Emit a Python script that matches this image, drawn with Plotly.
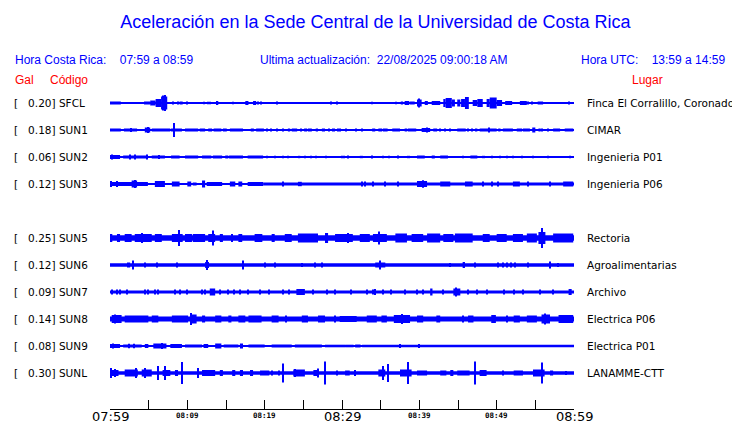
import plotly.graph_objects as go

# time axis: minutes after 07:59 (hora Costa Rica)
tick_minutes = list(range(0, 61, 5))
tick_labels = ["07:59", "", "08:09", "", "08:19", "", "08:29", "", "08:39", "", "08:49", "", "08:59"]
big_labels = ["07:59", "08:29", "08:59"]

codes = ["SFCL", "SUN1", "SUN2", "SUN3", "SUN5", "SUN6", "SUN7", "SUN8", "SUN9", "SUNL"]
peak_gal = [0.20, 0.18, 0.06, 0.12, 0.25, 0.12, 0.09, 0.14, 0.08, 0.30]
places = [
    "Finca El Corralillo, Coronado", "CIMAR", "Ingenieria P01", "Ingenieria P06",
    "Rectoria", "Agroalimentarias", "Archivo", "Electrica P06", "Electrica P01", "LANAMME-CTT",
]
# row slot of each station (SUN4 has no trace, its row stays empty)
slots = [0, 1, 2, 3, 5, 6, 7, 8, 9, 10]

# trace envelopes: (minute start, minute end, half amplitude)
sfcl = [
    (0, 60, 0.5), (0, 1.4, 1.5),
    (4.4, 5.2, 1.5), (5.2, 5.9, 2.5), (5.9, 6.6, 4), (6.6, 7.4, 6.5), (6.8, 6.8, 7.5), (7.1, 7.1, 8),
    (8.1, 8.1, 1.5), (8.75, 8.75, 1.5), (9.0, 9.4, 1.5), (10.0, 10.0, 1.5), (12.2, 12.2, 1.2),
    (12.7, 12.7, 1.2), (12.9, 12.9, 1.2), (13.8, 14.0, 2), (15.9, 15.9, 1.2), (17.5, 17.9, 2),
    (18.5, 18.9, 2), (19.1, 19.1, 1.5), (19.5, 19.5, 1.5), (21.6, 21.6, 1.5), (28.6, 28.6, 1.5),
    (29.3, 29.3, 1.5), (33.9, 33.9, 1.2), (37.0, 37.0, 1.2), (37.6, 37.9, 1.5), (38.1, 38.7, 2),
    (38.8, 39.4, 1.5), (39.7, 40.3, 3.5), (40.0, 40.0, 4.5), (40.7, 41.1, 2), (41.6, 42.7, 2),
    (43.1, 43.4, 4), (43.4, 44.2, 5), (44.2, 44.6, 3.5), (44.9, 45.3, 3.5), (45.4, 45.9, 4),
    (45.9, 46.4, 6), (46.9, 47.5, 3), (47.5, 48.2, 4), (48.7, 49.1, 4), (49.1, 50.0, 5.5),
    (50.0, 50.7, 3), (51.1, 52.0, 2), (53.0, 53.9, 2), (54.0, 54.0, 1.5), (54.6, 54.6, 1.5),
    (55.3, 56.0, 1.5), (59.3, 59.3, 1.5),
]
sun1 = [
    (0, 60, 0.5), (0, 1.4, 1.5), (1.8, 3.5, 1.5), (2.7, 2.7, 2), (4.5, 5.2, 2.5), (4.9, 4.9, 3),
    (5.4, 7.8, 1.5), (7.9, 9.3, 1.5), (8.3, 8.3, 7), (9.7, 11.4, 1.5), (11.6, 12.3, 1.5),
    (12.7, 13.2, 1.5), (13.4, 14.4, 1.5), (14.6, 15.1, 1.5), (15.5, 17.2, 1.5), (18.2, 18.6, 1.5),
    (18.9, 19.9, 1.5), (20.2, 20.3, 1.5), (20.8, 20.9, 1.5), (21.5, 21.7, 1.5), (22.4, 22.4, 1.5),
    (23.0, 23.3, 1.5), (23.5, 24.2, 1.5), (24.6, 24.8, 1.5), (25.1, 25.5, 1.5), (25.6, 26.1, 1.5),
    (26.6, 26.9, 1.5), (27.4, 27.8, 1.5), (28.2, 28.4, 1.5), (28.7, 29.1, 1.5), (29.5, 29.5, 1.5),
    (29.7, 29.8, 1.5), (30.5, 30.5, 1.5), (31.7, 31.9, 1.5), (32.6, 32.6, 1.5), (33.9, 34.3, 1.5),
    (34.7, 35.2, 1.5), (35.3, 35.9, 1.5), (36.5, 37.5, 1.5), (38.1, 38.4, 1.5), (38.5, 39.6, 1.5),
    (40.3, 41.4, 2), (41.0, 41.0, 2.5), (41.8, 42.3, 1.5), (42.7, 42.7, 1.5), (43.3, 43.3, 1.5),
    (44.0, 44.0, 1.5), (44.9, 46.0, 1.5), (46.3, 46.3, 1.5), (46.8, 46.8, 1.5), (47.2, 47.5, 1.5),
    (47.8, 50.0, 1.5), (48.9, 49.0, 2.5), (50.2, 50.5, 1.5), (50.8, 52.1, 1.5), (52.6, 53.3, 1.5),
    (53.4, 54.3, 1.5), (54.6, 55.0, 2.5), (55.4, 55.7, 1.5), (55.9, 55.9, 1.5), (56.7, 56.7, 1.5),
    (57.3, 58.2, 1.5), (58.8, 59.9, 1.5),
]
sun2 = [
    (0, 60, 0.5), (0, 1.3, 2), (0.3, 0.3, 2.5), (1.7, 4.8, 1.5), (2.6, 2.6, 2.5), (3.2, 3.2, 2.5),
    (4.8, 4.8, 2.5), (5.4, 7.1, 1.5), (6.3, 6.3, 2), (7.9, 9.0, 1.5), (9.7, 11.4, 1.5),
    (11.9, 13.1, 1.5), (13.3, 14.5, 1.5), (14.9, 15.3, 1.5), (15.4, 17.2, 1.5), (17.8, 19.8, 1.5),
    (20.3, 20.3, 1.2), (21.3, 21.3, 1.2), (22.4, 22.4, 1.2), (23.0, 23.0, 1.2), (24.3, 24.6, 1.2),
    (25.2, 25.2, 1.2), (26.0, 26.0, 1.2), (26.7, 26.7, 1.2), (27.9, 27.9, 1.2), (30.0, 30.0, 1.2),
    (30.2, 30.2, 1.2), (30.8, 30.8, 1.5), (32.3, 32.7, 1.2), (33.9, 33.9, 1.5), (35.2, 35.4, 1.2),
    (36.1, 36.1, 1.2), (37.2, 37.2, 1.5), (38.4, 38.8, 1.2), (39.7, 40.7, 1.5), (41.6, 42.0, 1.5),
    (42.7, 43.7, 1.5), (45.6, 45.6, 1.2), (46.6, 47.5, 1.5), (48.1, 48.5, 1.2), (49.4, 49.4, 1.2),
    (50.4, 50.4, 1.2), (51.3, 51.3, 1.2), (52.1, 52.1, 1.2), (53.3, 53.3, 1.2), (54.7, 54.7, 1.2),
    (56.6, 56.6, 1.2), (59.5, 59.5, 1.2),
]
sun3 = [
    (0, 19.8, 0.5), (19.8, 60, 1.6),
    (0, 4.9, 2), (0.15, 0.15, 3), (0.9, 0.9, 3), (2.8, 3.5, 3.5), (3.2, 3.2, 4), (5.8, 7.1, 3),
    (8.0, 9.0, 2.5), (10.0, 10.5, 2.5), (10.7, 11.2, 1.5), (11.9, 12.3, 3.5), (12.5, 14.5, 2),
    (15.5, 16.2, 2.5), (16.6, 17.1, 2.5), (17.8, 19.8, 2),
    (22.4, 22.4, 2.5), (24.3, 24.8, 2.2), (32.6, 32.6, 2.5), (33.0, 33.0, 2.5), (34.0, 34.0, 2.5),
    (35.6, 35.6, 2.5), (37.2, 37.2, 2.5), (39.7, 41.0, 3), (40.5, 40.5, 3.8), (42.7, 44.0, 2.5),
    (45.9, 46.9, 2.5), (48.2, 48.2, 2.5), (49.4, 49.4, 2.5), (50.2, 50.2, 2.5), (52.1, 53.0, 2.5),
    (54.0, 54.0, 2.5), (56.9, 56.9, 2.5), (58.6, 59.9, 2.5),
]
sun5 = [
    (0, 60, 2.7),
    (0, 0.3, 4), (0.9, 1.3, 4), (1.9, 2.8, 4), (3.2, 5.4, 4), (4.1, 4.1, 5), (5.8, 6.7, 4),
    (8.0, 9.4, 4), (8.9, 8.9, 8), (9.7, 10.6, 4), (10.7, 12.3, 4), (12.7, 13.6, 4), (13.3, 13.3, 7.5),
    (14.2, 14.6, 4), (15.8, 15.8, 4), (16.6, 17.1, 4), (18.7, 19.7, 4), (20.9, 21.3, 4),
    (22.6, 23.5, 4), (24.3, 26.9, 4.5), (27.8, 28.2, 5), (29.1, 30.4, 4), (29.7, 31.4, 4),
    (30.8, 30.8, 5), (32.3, 33.6, 4), (34.0, 35.8, 4), (34.8, 34.8, 6.5), (36.9, 38.4, 4.5),
    (39.0, 40.5, 4), (41.0, 42.7, 4.5), (43.1, 44.4, 4), (44.6, 46.9, 4.5), (48.2, 49.1, 4),
    (50.0, 51.3, 4), (52.1, 53.4, 4), (53.9, 55.2, 4.5), (55.4, 56.3, 6), (55.8, 55.8, 10),
    (57.3, 59.9, 4.5),
]
sun6 = [
    (0, 60, 1.7),
    (2.2, 2.6, 2.5), (3.0, 3.0, 4.5), (4.5, 4.5, 2.5), (6.1, 6.1, 2.5), (8.7, 8.7, 2.5),
    (12.3, 12.8, 3), (12.5, 12.5, 5), (17.2, 17.2, 4.5), (20.0, 20.0, 2.5), (21.3, 21.3, 2.5),
    (24.8, 24.8, 2), (26.5, 26.5, 2.5), (27.4, 27.4, 2.5), (34.3, 35.6, 2.5), (34.9, 34.9, 4.5),
    (44.0, 44.0, 2), (45.6, 45.9, 3), (47.2, 47.2, 2.5), (50.2, 50.2, 2.5), (50.8, 50.8, 2.5),
    (51.3, 51.3, 2.5), (51.9, 51.9, 2.5), (52.4, 52.4, 2.5), (54.0, 54.0, 2.5), (56.9, 56.9, 3.5),
    (57.9, 57.9, 2),
]
sun7 = [
    (0, 60, 1.6),
    (0.22, 0.22, 2.5), (0.86, 0.86, 2.5), (1.29, 1.29, 2.5), (2.16, 2.16, 2.5), (4.5, 4.5, 2.5),
    (4.96, 4.96, 2.5), (5.8, 5.8, 2.5), (6.25, 6.25, 2.5), (8.4, 8.4, 2.5), (9.05, 9.05, 2.5),
    (9.9, 9.9, 2.5), (11.9, 11.9, 2.5), (12.3, 12.3, 2.5), (12.9, 13.6, 3.5), (14.2, 14.2, 2.5),
    (15.3, 15.3, 2.5), (16.0, 16.0, 2.5), (16.8, 16.8, 2.5), (17.9, 17.9, 2.5), (19.4, 19.4, 2.5),
    (20.5, 20.5, 2.5), (22.4, 22.4, 2.5), (23.1, 23.1, 2.5), (24.1, 25.2, 3), (26.3, 26.3, 2.5),
    (28.0, 28.0, 2.5), (29.1, 29.1, 2.5), (31.2, 31.2, 2.5), (33.2, 33.2, 2.5), (34.0, 34.0, 2.5),
    (34.3, 34.3, 3), (35.3, 35.3, 2.5), (36.4, 36.4, 2.5), (38.1, 38.1, 2.5), (39.7, 39.7, 2.5),
    (40.5, 40.5, 2.5), (41.4, 41.7, 3.5), (43.1, 43.1, 2.5), (44.4, 45.3, 3.5), (44.8, 44.8, 4.5),
    (46.3, 46.3, 2.5), (47.4, 47.4, 2.5), (48.7, 48.7, 2.5), (50.9, 50.9, 2.5), (52.2, 52.2, 2.5),
    (53.4, 53.4, 2.5), (55.6, 55.6, 2.5), (57.3, 57.3, 2.5), (59.3, 59.7, 3),
]
sun8 = [
    (0, 60, 2.4),
    (0.22, 1.5, 4), (0.65, 0.65, 4.5), (1.9, 4.96, 3.5), (5.4, 6.25, 3.5), (8.0, 10.1, 3.5),
    (10.35, 11.2, 4.5), (10.5, 10.5, 6), (11.9, 12.3, 3.5), (13.6, 14.4, 3.5), (15.3, 15.7, 3.5),
    (16.6, 17.5, 3.5), (17.9, 19.6, 3.5), (20.9, 21.8, 3.5), (22.8, 22.8, 3.5), (24.8, 25.6, 3.5),
    (26.9, 27.8, 3.5), (29.1, 29.1, 3.5), (29.7, 31.9, 3), (33.2, 34.5, 3.5), (35.1, 35.8, 3.5),
    (36.7, 38.8, 4), (37.7, 37.7, 5), (39.7, 40.5, 3.5), (42.2, 42.7, 3.5), (45.7, 45.7, 3.5),
    (46.3, 47.0, 3.5), (49.3, 49.9, 4), (51.3, 51.3, 3.5), (52.2, 53.0, 3.5), (53.9, 55.2, 3.5),
    (55.8, 56.9, 4.5), (56.2, 56.2, 5.5), (58.0, 59.9, 4),
]
sun9 = [
    (0, 60, 0.8),
    (0, 1.3, 2), (0.4, 0.4, 2.5), (1.7, 4.1, 1.5), (2.4, 2.4, 2.2), (3.1, 3.1, 2.2), (4.5, 4.96, 2),
    (5.6, 7.3, 2.5), (6.7, 6.7, 3), (7.8, 9.3, 2), (9.7, 11.9, 1.5), (12.1, 12.7, 2),
    (13.6, 14.4, 2.5), (14.7, 16.6, 1.5), (16.8, 17.2, 2.5), (17.9, 20.0, 1.5), (20.9, 23.5, 1.5),
    (23.9, 27.4, 1.5), (27.8, 30.4, 1.3), (30.4, 31.5, 1.3), (31.7, 32.4, 1.5), (32.6, 60, 1.3),
    (37.5, 37.5, 2), (40.0, 40.0, 2),
]
sunl = [
    (0, 60, 1.7),
    (0, 1.1, 3), (0.1, 0.1, 5), (0.65, 0.65, 4), (1.9, 3.6, 3.5), (3.4, 3.4, 5), (4.1, 5.4, 3.5),
    (4.5, 4.5, 5), (6.2, 6.2, 7), (7.1, 7.1, 7), (6.8, 7.8, 3), (8.4, 8.8, 3), (9.3, 9.3, 11),
    (11.4, 11.4, 5), (11.9, 13.6, 3), (14.2, 14.6, 3), (15.8, 16.2, 3), (16.8, 17.2, 3),
    (18.1, 18.5, 3), (19.4, 20.6, 2.5), (20.9, 20.9, 2.5), (21.9, 21.9, 2.5), (22.4, 22.4, 9.5),
    (23.7, 25.2, 3.5), (23.9, 23.9, 4), (26.3, 26.9, 3), (26.9, 26.9, 4.5), (27.8, 27.8, 11.5),
    (29.4, 29.4, 2.5), (30.4, 31.0, 2.5), (31.7, 31.7, 3), (34.7, 35.6, 3.5), (35.3, 35.3, 7),
    (36.0, 36.0, 9), (37.5, 39.0, 3.5), (38.5, 38.5, 11), (39.7, 41.0, 2.5), (42.7, 43.5, 2.5),
    (44.0, 44.4, 3), (44.9, 46.5, 2.5), (47.2, 47.2, 11.5), (47.8, 48.7, 3), (50.7, 50.9, 2.5),
    (52.2, 53.4, 2.5), (54.7, 56.2, 3.5), (55.9, 55.9, 10.5), (56.9, 57.3, 2.5), (59.0, 59.0, 2),
]
traces = [sfcl, sun1, sun2, sun3, sun5, sun6, sun7, sun8, sun9, sunl]

# page geometry in window px; the page body adds an 8px margin, so the figure is
# made 8px smaller and every position is shifted back by that much
OFF = 8
W, H = 740 - OFF, 423 - OFF
PLOT_L, PLOT_R, PLOT_T, PLOT_B = 110 - OFF, 574 - OFF, 90 - OFF, 409 - OFF
ROW_PX, FIRST_ROW = 27, 103 - OFF
PAD = 2  # annotation box padding
BLUE, RED = "#0000ff", "#ff0000"
min_width = 60 / (PLOT_R - PLOT_L)  # one pixel in minutes


def px_x(px, anchor="left"):
    px = px - OFF + (-PAD if anchor == "left" else PAD if anchor == "right" else 0)
    return (px - PLOT_L) / (PLOT_R - PLOT_L)


def px_y(px):
    return (PLOT_B - (px - OFF)) / (PLOT_B - PLOT_T)


fig = go.Figure()
for slot, env in zip(slots, traces):
    fig.add_trace(go.Bar(
        x=[(t0 + t1) / 2 for t0, t1, a in env],
        width=[max(t1 - t0, min_width) for t0, t1, a in env],
        base=[slot - a / ROW_PX for t0, t1, a in env],
        y=[2 * a / ROW_PX for t0, t1, a in env],
        marker=dict(color=BLUE, line_width=0),
        hoverinfo="skip",
        showlegend=False,
    ))

label_font = dict(family="DejaVu Sans", size=10.5, color="black")
for slot, code, gal, place in zip(slots, codes, peak_gal, places):
    fig.add_annotation(
        x=px_x(14), xref="paper", y=slot, yref="y", xanchor="left",
        text=f"[\u00a0\u00a0\u00a0{gal:0.2f}] {code}", showarrow=False, font=label_font,
    )
    fig.add_annotation(
        x=px_x(587), xref="paper", y=slot, yref="y", xanchor="left",
        text=place, showarrow=False, font=label_font,
    )

head_font = dict(family="Liberation Sans", size=12, color=BLUE)
red_font = dict(family="Liberation Sans", size=12, color=RED)
headers = [
    (15, 60, "left", "Hora Costa Rica:\u00a0\u00a0\u00a0 07:59 a 08:59", head_font),
    (260, 60, "left", "Ultima actualización:\u00a0 22/08/2025 09:00:18 AM", head_font),
    (725, 60, "right", "Hora UTC:\u00a0\u00a0\u00a0 13:59 a 14:59", head_font),
    (15, 80, "left", "Gal", red_font),
    (50, 80, "left", "Código", red_font),
    (663, 80, "right", "Lugar", red_font),
]
for x, y, anchor, text, font in headers:
    fig.add_annotation(
        x=px_x(x, anchor), xref="paper", y=px_y(y), yref="paper", xanchor=anchor,
        yanchor="middle", text=text, showarrow=False, font=font,
    )

# time labels under the tick marks: half-hour ones large, the 10-minute ones small and bold
big_font = dict(family="DejaVu Sans", size=13, color="black")
small_font = dict(family="DejaVu Sans Mono", size=7.5, color="black")
for m, t in zip(tick_minutes, tick_labels):
    if not t:
        continue
    big = t in big_labels
    fig.add_annotation(
        x=m, xref="x", y=px_y(416.5 if big else 415.5), yref="paper", yanchor="middle",
        text=t if big else f"<b>{t}</b>", showarrow=False,
        font=big_font if big else small_font,
    )

fig.update_layout(
    width=W, height=H,
    margin=dict(l=PLOT_L, r=W - PLOT_R, t=PLOT_T, b=H - PLOT_B, pad=0),
    paper_bgcolor="white", plot_bgcolor="white",
    barmode="overlay",
    title=dict(
        text="Aceleración en la Sede Central de la Universidad de Costa Rica",
        x=(375.5 - OFF) / W, xref="container", xanchor="center",
        y=1 - (22 - OFF) / H, yref="container", yanchor="middle",
        font=dict(family="Liberation Sans", size=18, color=BLUE),
    ),
)
fig.update_xaxes(
    range=[0, 60], tickvals=tick_minutes, showticklabels=False,
    showgrid=False, zeroline=False, showline=True, linecolor="black", linewidth=1,
    ticks="inside", ticklen=9, tickwidth=1, tickcolor="black",
    automargin=False,
)
fig.update_yaxes(
    range=[(PLOT_B - FIRST_ROW) / ROW_PX, (PLOT_T - FIRST_ROW) / ROW_PX],
    visible=False, showgrid=False, zeroline=False, automargin=False,
)

fig.write_html("out.html")
